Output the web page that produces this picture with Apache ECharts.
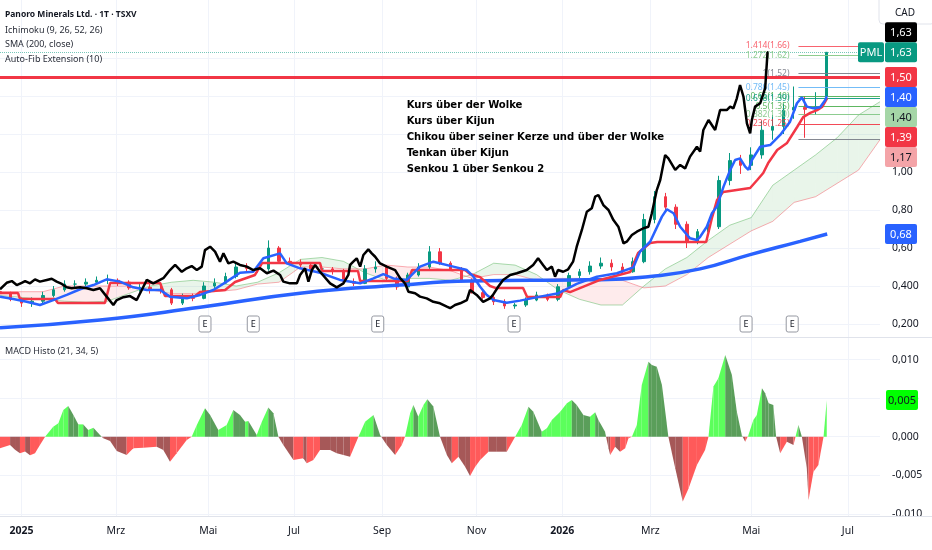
<!DOCTYPE html>
<html><head><meta charset="utf-8">
<script src="https://cdn.jsdelivr.net/npm/echarts@6/dist/echarts.min.js"></script>
<style>html,body{margin:0;padding:0;background:#fff}#c{width:932px;height:550px}</style>
</head><body><div id="c"></div>
<script>
// ---- axis ticks (x = trading-bar index) ----
const monthTickIdx = [10, 54, 97, 137, 178, 222, 262, 303, 350, 395];
const monthTickLabels = ['2025','Mrz','Mai','Jul','Sep','Nov','2026','Mrz','Mai','Jul'];
const priceTicks = [0.2, 0.4, 0.6, 0.8, 1.0, 1.2, 1.4, 1.6];
const priceTickLabels = ['0,200','0,400','0,60','0,80','1,00','1,20','1,40','1,60'];
const macdTicks = [-0.01, -0.005, 0, 0.005, 0.01];
const macdTickLabels = ['-0.010','-0,005','0,000','0,005','0,010'];

// ---- candles [bar, open, close, low, high] ----
const candles = [
[0,0.37,0.36,0.34,0.39],[5,0.36,0.33,0.32,0.37],[10,0.33,0.31,0.29,0.34],[15,0.31,0.32,0.29,0.34],
[20,0.32,0.35,0.31,0.37],[25,0.35,0.38,0.34,0.40],[30,0.38,0.41,0.37,0.43],[35,0.41,0.41,0.39,0.43],
[40,0.41,0.42,0.40,0.44],[45,0.42,0.43,0.41,0.45],[50,0.43,0.43,0.41,0.46],[55,0.43,0.42,0.40,0.44],
[60,0.42,0.39,0.38,0.43],[65,0.39,0.393,0.37,0.41],[70,0.393,0.382,0.36,0.41],[75,0.382,0.38,0.36,0.40],
[80,0.38,0.31,0.30,0.39],[85,0.31,0.34,0.30,0.36],[90,0.34,0.335,0.32,0.36],[95,0.335,0.40,0.33,0.42],
[100,0.40,0.415,0.39,0.44],[105,0.415,0.45,0.41,0.47],[110,0.45,0.50,0.44,0.52],[115,0.50,0.493,0.47,0.52],
[120,0.493,0.49,0.47,0.51],[125,0.49,0.60,0.48,0.64],[130,0.60,0.53,0.52,0.61],[135,0.53,0.525,0.51,0.55],
[140,0.525,0.51,0.49,0.54],[145,0.51,0.49,0.47,0.52],[150,0.49,0.49,0.47,0.51],[155,0.49,0.48,0.46,0.50],
[160,0.48,0.423,0.41,0.49],[165,0.423,0.414,0.40,0.44],[170,0.414,0.49,0.41,0.51],[175,0.49,0.50,0.47,0.53],
[180,0.50,0.44,0.43,0.51],[185,0.44,0.395,0.38,0.45],[190,0.395,0.458,0.39,0.47],[195,0.458,0.50,0.45,0.52],
[200,0.50,0.58,0.49,0.61],[205,0.58,0.52,0.51,0.60],[210,0.52,0.49,0.48,0.53],[215,0.49,0.43,0.42,0.50],
[220,0.43,0.365,0.36,0.44],[225,0.365,0.34,0.33,0.38],[230,0.34,0.317,0.30,0.35],[235,0.317,0.295,0.28,0.33],
[240,0.295,0.30,0.28,0.31],[245,0.30,0.326,0.29,0.34],[250,0.326,0.353,0.32,0.37],[255,0.353,0.33,0.32,0.36],
[260,0.33,0.396,0.32,0.41],[265,0.396,0.455,0.39,0.47],[270,0.455,0.475,0.44,0.49],[275,0.475,0.505,0.46,0.53],
[280,0.505,0.52,0.49,0.55],[285,0.52,0.50,0.48,0.54],[290,0.50,0.475,0.46,0.52],[295,0.475,0.528,0.47,0.55],
[300,0.528,0.75,0.52,0.78],[305,0.75,0.87,0.73,0.90],[310,0.87,0.815,0.79,0.89],[315,0.815,0.725,0.70,0.83],
[320,0.725,0.633,0.60,0.74],[325,0.633,0.686,0.62,0.70],[330,0.686,0.712,0.67,0.74],[335,0.712,0.955,0.70,0.98],
[340,0.955,1.06,0.93,1.10],[345,1.06,1.035,0.99,1.09],[350,1.035,1.09,1.01,1.13],[355,1.09,1.22,1.07,1.27],
[360,1.22,1.24,1.17,1.30],[365,1.24,1.326,1.20,1.36],[370,1.326,1.34,1.28,1.45],[375,1.34,1.33,1.18,1.40],
[380,1.33,1.345,1.30,1.42],[385,1.40,1.63,1.38,1.63]
];

// ---- Ichimoku lines [bar, price] ----
const tenkan = [
[0,0.344],[6.2,0.332],[12.4,0.317],[18.6,0.30],[24.8,0.326],[31.1,0.353],[37.3,0.383],[43.5,0.405],
[49.7,0.435],[55.9,0.423],[62.1,0.393],[68.4,0.379],[74.6,0.379],[79.2,0.344],[87,0.335],[93.2,0.353],
[99.4,0.379],[105.6,0.423],[111.8,0.47],[118,0.475],[122.7,0.546],[130.5,0.572],[133.6,0.519],[139.8,0.493],
[149.1,0.47],[158.4,0.432],[167.8,0.414],[174,0.44],[178.6,0.463],[183.3,0.44],[189.5,0.432],[195.7,0.502],
[201.9,0.528],[211.2,0.502],[217.5,0.484],[220.6,0.449],[223.7,0.396],[226.8,0.353],[229.9,0.326],[236.1,0.312],
[242.3,0.323],[251.6,0.344],[260.2,0.362],[268.7,0.411],[278.1,0.449],[287.4,0.467],[295.1,0.498],[298.2,0.581],
[302.9,0.633],[308.4,0.765],[310.7,0.804],[313.8,0.783],[316.9,0.712],[321.5,0.651],[324.7,0.642],[326.2,0.659],
[329.3,0.712],[331.7,0.783],[334,0.818],[337.1,0.923],[340.2,1.011],[342.5,1.063],[344.8,1.072],[347.2,1.028],
[348.7,1.011],[350.3,1.063],[354.2,1.133],[358.8,1.142],[363.5,1.195],[368.1,1.265],[371.3,1.362],[373.6,1.393],
[375.9,1.344],[379,1.335],[382.1,1.341],[384.5,1.379],[385.2,1.40]
];
const kijun = [
[0,0.363],[8.4,0.363],[9.3,0.332],[25.6,0.332],[27,0.311],[48.9,0.311],[51.3,0.416],[74.6,0.416],
[76.9,0.347],[90.9,0.347],[93.2,0.368],[104.9,0.379],[109.5,0.421],[118.8,0.458],[122.1,0.521],[149.1,0.521],
[150.1,0.479],[166.8,0.479],[167.8,0.426],[190.1,0.426],[192,0.484],[216.7,0.484],[219,0.463],[223.7,0.447],
[228.3,0.40],[231.1,0.389],[243.7,0.389],[245.6,0.342],[261,0.342],[262.4,0.379],[265.6,0.368],[279.6,0.432],
[293.6,0.474],[297.3,0.574],[302.9,0.626],[306.2,0.632],[329,0.632],[331.8,0.763],[334.1,0.853],[336.9,0.895],
[349.5,0.916],[352.8,0.958],[355.6,0.995],[357.9,1.047],[362.1,1.116],[366.7,1.153],[371.4,1.237],[374.2,1.289],
[377.5,1.311],[380.7,1.326],[383,1.342],[385.4,1.389]
];
const chikou = [
[0,0.383],[3.1,0.417],[5.5,0.426],[7.8,0.405],[10.1,0.417],[11.7,0.426],[14,0.414],[16.3,0.435],[18.6,0.423],
[21.8,0.432],[24.1,0.438],[26.4,0.423],[28.8,0.411],[31.1,0.393],[33.4,0.388],[37.3,0.393],[40.4,0.388],[43.5,0.379],
[46.6,0.388],[49.7,0.344],[52.8,0.300],[54.4,0.326],[57.5,0.341],[60.6,0.347],[63.7,0.326],[66.8,0.396],[68.4,0.432],
[71.4,0.414],[76.1,0.441],[79.2,0.484],[81.6,0.511],[84.7,0.475],[87,0.493],[89.3,0.505],[91.7,0.484],[94,0.502],
[95.5,0.589],[97.9,0.607],[100.2,0.581],[102.5,0.528],[104.1,0.572],[106.4,0.519],[108.7,0.528],[111.8,0.511],
[115,0.502],[118,0.484],[121.2,0.493],[124.3,0.467],[127.4,0.481],[130.5,0.458],[132,0.423],[135.1,0.414],
[138.3,0.414],[139.8,0.458],[142.1,0.493],[143.7,0.423],[145.3,0.484],[146.8,0.511],[149.1,0.475],[153.8,0.414],
[156.9,0.393],[160,0.414],[162.3,0.458],[163.1,0.511],[164.6,0.528],[166.2,0.546],[167.8,0.502],[169.3,0.563],
[171.6,0.593],[173.2,0.572],[174.8,0.554],[177.1,0.519],[180.2,0.502],[184.1,0.484],[186.4,0.441],[188.7,0.414],
[190.3,0.370],[193.4,0.362],[195.7,0.344],[198.8,0.335],[201.9,0.317],[205,0.309],[208.2,0.291],[209.7,0.283],
[212,0.300],[214.4,0.309],[217.5,0.326],[219,0.379],[222.1,0.353],[225.1,0.317],[228.3,0.335],[229.7,0.353],
[232.1,0.396],[234.4,0.432],[237.7,0.458],[240.8,0.467],[245.4,0.484],[248.4,0.511],[250.7,0.546],[253,0.511],
[254.8,0.484],[257.1,0.502],[258.6,0.449],[260,0.484],[262.4,0.475],[264.7,0.488],[267,0.528],[268.7,0.607],
[271.1,0.695],[273.4,0.791],[275.7,0.809],[277.3,0.870],[278.8,0.879],[281.1,0.826],[283.5,0.800],[285.8,0.747],
[288.1,0.712],[290.5,0.625],[292,0.633],[294.4,0.668],[296.7,0.686],[299.8,0.704],[302.1,0.712],[303.7,0.783],
[306,0.905],[307.6,0.958],[309.9,1.089],[311.4,1.072],[314.6,1.011],[316.9,1.037],[319.2,1.019],[321.5,1.081],
[324.7,1.133],[326.2,1.107],[327.7,1.221],[330.1,1.274],[333.2,1.221],[335.5,1.326],[338.6,1.326],[340.2,1.344],
[341.7,1.335],[343.3,1.388],[344.8,1.458],[346.4,1.396],[348,1.256],[349.5,1.204],[350.3,1.274],[351.8,1.344],
[354.2,1.362],[356.5,1.441],[357.6,1.63],[358,1.63]
];
const sma200 = [
[0,0.180],[46.6,0.221],[93.2,0.288],[139.8,0.362],[186.4,0.405],[219,0.426],[267,0.432],[279.6,0.433],
[302.9,0.45],[326.2,0.49],[349.5,0.565],[372.8,0.635],[385.4,0.674]
];
const cloudIdx = [0,10,20,30,40,50,60,70,80,90,100,110,120,130,140,150,160,170,180,190,200,210,220,230,240,250,260,270,280,290,300,310,320,330,340,350,360,370,380,390,400,410];
const senkouA = [0.35,0.34,0.33,0.32,0.315,0.32,0.36,0.40,0.42,0.43,0.42,0.40,0.42,0.47,0.54,0.55,0.53,0.47,0.43,0.44,0.44,0.43,0.46,0.52,0.51,0.46,0.38,0.33,0.30,0.30,0.40,0.49,0.55,0.64,0.72,0.76,0.93,1.01,1.09,1.18,1.30,1.37];
const senkouB = [0.37,0.37,0.37,0.40,0.40,0.40,0.40,0.38,0.36,0.36,0.37,0.38,0.41,0.42,0.50,0.50,0.49,0.49,0.51,0.50,0.50,0.48,0.44,0.46,0.46,0.43,0.44,0.44,0.43,0.43,0.39,0.40,0.46,0.55,0.62,0.69,0.74,0.84,0.87,0.94,1.01,1.17];

// ---- MACD histogram [bar, value] ----
const macdHisto = [
[0,-0.0015],[4.7,-0.00107],[7,-0.0017],[9.3,-0.00215],[11.7,-0.0019],[14,-0.0024],[16.3,-0.00215],[18.6,-0.00107],
[21,0],[24.8,0.0013],[27.2,0.00173],[29.5,0.00346],[31.8,0.00397],[34.2,0.0028],[36.5,0.0016],[38.8,0.0016],
[41.1,0.00087],[43.5,0.00117],[46.6,0.00022],[48.1,-0.0002],[51.3,-0.00056],[54.4,-0.00185],[59,-0.00237],[62.1,-0.0015],
[66.8,-0.00142],[73,-0.0013],[76.1,-0.00172],[79.2,-0.00324],[82.3,-0.00215],[87,-0.00043],[89.3,0],[91.7,0.00152],
[95.5,0.00368],[97.9,0.0028],[101.7,0.00087],[105.6,0.00152],[108.7,0.00346],[111.8,0.0028],[114.2,0.00194],[115.7,0.00203],
[119.6,0.00022],[122,0.00194],[125,0.0038],[127.4,0.00303],[129.7,0],[132,-0.00107],[136.7,-0.00302],[141.3,-0.0028],
[142.9,-0.00345],[146,-0.00302],[149.1,-0.00172],[153.8,-0.00172],[156.9,-0.00215],[160,-0.00237],[163.1,-0.0026],[167,0],
[170.1,0.00194],[174,0.0028],[177.1,0.00022],[180.2,-0.00107],[184.1,-0.00237],[187.2,-0.00107],[188.7,0],[191.1,0.00303],
[192.6,0.0041],[194.9,0.0026],[197.3,0.0041],[199.1,0.00484],[201.9,0.0039],[205,0],[208.2,-0.00237],[210.5,-0.00345],
[213.6,-0.0026],[216.7,-0.0039],[219,-0.0051],[221.4,-0.0039],[223.7,-0.00302],[227.6,-0.00194],[231.5,-0.00194],[236.1,-0.00194],
[240,0],[243.1,0.00152],[246.2,0.00389],[248.5,0.00324],[252.4,0.00065],[254.8,0.00109],[257.1,0.00216],[261,0.00324],
[264.1,0.00433],[266.4,0.00475],[268.7,0.0041],[271.8,0.0028],[274.9,0.0026],[277.3,0.00316],[278.8,0.00216],[281.9,0.00065],
[283.5,-0.0015],[284.3,-0.00237],[286.6,-0.0013],[288.9,-0.00194],[291.3,-0.0015],[292.8,-0.0002],[294.4,0],[296.7,0.00152],
[299,0.0067],[302.1,0.0097],[303.7,0.0093],[306,0.00907],[308.4,0.0067],[311.4,0],[314.6,-0.0041],[318.1,-0.0084],
[320.8,-0.0067],[324.7,-0.00367],[328.5,-0.00172],[330.1,0],[332.4,0.0065],[334.7,0.00756],[337.9,0.0106],[341,0.008],
[343.3,0.00324],[345.6,0.00022],[347.2,-0.00065],[348.7,0.00022],[351,0.00216],[352.6,0.0028],[355,0.00627],[356.5,0.00562],
[358.1,0.00433],[360.3,0.0041],[361.6,0],[363.5,-0.00215],[366.6,-0.00065],[369.7,-0.00107],[372,0.00152],[373.6,0],
[375.9,-0.0041],[376.7,-0.0082],[379,-0.00453],[381.3,-0.00367],[383.7,0],[385.2,0.00475]
];

// ---- events and drawings ----
const earningsIdx = [95.5, 118, 176, 239.5, 347.6, 369.1];
const fibRatios = ['1.414','1.272','1','0.786','0.65','0.618','0.5','0.382','0.236','0'];
const fibPrices = [1.664, 1.615, 1.52, 1.445, 1.3975, 1.386, 1.345, 1.304, 1.253, 1.17];
const fibPriceLabels = ['1.66','1.62','1.52','1.45','1.40','1.39','1.35','1.30','1.25','1.17'];
const fibColors = ['#f7525f','#81c784','#787b86','#64b5f6','#4caf50','#089981','#4caf50','#81c784','#f23645','#787b86'];
const fibStart = 372, axisEnd = 410;
const resistance = 1.50, lastClose = 1.63;
const annotation = ['Kurs über der Wolke','Kurs über Kijun','Chikou über seiner Kerze und über der Wolke','Tenkan über Kijun','Senkou 1 über Senkou 2'];
const annotationAnchor = [189.5, 1.395];
const legendLines = ['Panoro Minerals Ltd. · 1T · TSXV','Ichimoku (9, 26, 52, 26)','SMA (200, close)','Auto-Fib Extension (10)'];

const FONT = '"Noto Sans", sans-serif';
const GRID = '#f0f3fa';
function lookup(vals, labels, v){ for (let i=0;i<vals.length;i++) if (Math.abs(vals[i]-v)<1e-9) return labels[i]; return ''; }

const chart = echarts.init(document.getElementById('c'), null, {width:932, height:550});

const fibMarks = fibRatios.map((r,i)=>[
  {name: r==='0' ? '' : r+'('+fibPriceLabels[i]+')', coord:[fibStart, fibPrices[i]],
   lineStyle:{color:fibColors[i], width:1, type:'solid', opacity:0.9},
   label:{show: r!=='0', color:fibColors[i]}},
  {coord:[axisEnd, fibPrices[i]]}
]);

const option = {
  animation:false,
  textStyle:{fontFamily:FONT},
  grid:[
    {left:0, right:52, top:0, height:337},
    {left:0, right:52, top:338, height:178}
  ],
  xAxis:[
    {type:'value', gridIndex:0, min:0, max:axisEnd, axisLine:{show:false},
     axisTick:{show:false, customValues:monthTickIdx}, axisLabel:{show:false, customValues:monthTickIdx},
     splitLine:{show:true, lineStyle:{color:GRID}}},
    {type:'value', gridIndex:1, min:0, max:axisEnd, axisLine:{show:false},
     axisTick:{show:false, customValues:monthTickIdx},
     axisLabel:{customValues:monthTickIdx, margin:10, color:'#131722', fontSize:10.5, fontFamily:FONT,
       formatter:(v)=>{ let best=0; for(let i=0;i<monthTickIdx.length;i++) if(Math.abs(monthTickIdx[i]-v)<Math.abs(monthTickIdx[best]-v)) best=i;
         const t=monthTickLabels[best]; return /^\d{4}$/.test(t) ? '{b|'+t+'}' : t; },
       rich:{b:{fontWeight:'bold', fontSize:10.5, color:'#131722', fontFamily:FONT}}},
     splitLine:{show:true, lineStyle:{color:GRID}}}
  ],
  yAxis:[
    {type:'value', gridIndex:0, position:'right', min:0.1316, max:1.9053, axisLine:{show:false},
     axisTick:{show:false, customValues:priceTicks},
     axisLabel:{customValues:priceTicks, align:'left', margin:12, color:'#131722', fontSize:10.5, fontFamily:FONT,
       formatter:(v)=>lookup(priceTicks, priceTickLabels, v)},
     splitLine:{show:true, lineStyle:{color:GRID}}},
    {type:'value', gridIndex:1, position:'right', min:-0.01027, max:0.01279, axisLine:{show:false},
     axisTick:{show:false, customValues:macdTicks},
     axisLabel:{customValues:macdTicks, align:'left', margin:12, color:'#131722', fontSize:10.5, fontFamily:FONT,
       formatter:(v)=>lookup(macdTicks, macdTickLabels, v)},
     splitLine:{show:true, lineStyle:{color:GRID}}}
  ],
  series:[
    {type:'custom', name:'cloud', xAxisIndex:0, yAxisIndex:0, z:1, silent:true,
     data: cloudIdx.map((x,i)=>[x, senkouA[i], senkouB[i]]),
     renderItem:(params, api)=>{
       const i = params.dataIndex; if (i >= cloudIdx.length-1) return null;
       const a0 = api.coord([cloudIdx[i], senkouA[i]]), a1 = api.coord([cloudIdx[i+1], senkouA[i+1]]);
       const b0 = api.coord([cloudIdx[i], senkouB[i]]), b1 = api.coord([cloudIdx[i+1], senkouB[i+1]]);
       const up = senkouA[i]+senkouA[i+1] >= senkouB[i]+senkouB[i+1];
       return {type:'polygon', shape:{points:[a0,a1,b1,b0]}, style:{fill: up ? 'rgba(76,175,80,0.12)' : 'rgba(242,54,69,0.10)'}};
     }},
    {type:'line', name:'Senkou A', xAxisIndex:0, yAxisIndex:0, z:2, showSymbol:false, silent:true,
     data: cloudIdx.map((x,i)=>[x, senkouA[i]]), lineStyle:{color:'rgba(76,175,80,0.45)', width:1}},
    {type:'line', name:'Senkou B', xAxisIndex:0, yAxisIndex:0, z:2, showSymbol:false, silent:true,
     data: cloudIdx.map((x,i)=>[x, senkouB[i]]), lineStyle:{color:'rgba(242,54,69,0.4)', width:1}},
    {type:'candlestick', name:'PML', xAxisIndex:0, yAxisIndex:0, z:3, barWidth:3, data:candles,
     itemStyle:{color:'#089981', color0:'#f23645', borderColor:'#089981', borderColor0:'#f23645', borderWidth:1}},
    {type:'line', name:'SMA200', xAxisIndex:0, yAxisIndex:0, z:4, smooth:true, showSymbol:false, data:sma200,
     lineStyle:{color:'#2962ff', width:3.5}},
    {type:'line', name:'Kijun', xAxisIndex:0, yAxisIndex:0, z:5, showSymbol:false, data:kijun,
     lineStyle:{color:'#f23645', width:2.5}},
    {type:'line', name:'Tenkan', xAxisIndex:0, yAxisIndex:0, z:6, showSymbol:false, data:tenkan,
     lineStyle:{color:'#2962ff', width:2.5}},
    {type:'line', name:'Chikou', xAxisIndex:0, yAxisIndex:0, z:7, showSymbol:false, data:chikou,
     lineStyle:{color:'#000000', width:2.5}},
    {type:'line', name:'drawings', xAxisIndex:0, yAxisIndex:0, z:8, data:[], silent:true,
     markLine:{symbol:'none', silent:true, animation:false,
       label:{position:'start', distance:9, fontSize:8.5, fontFamily:FONT, padding:[0,0,25,0], formatter:(p)=>p.name},
       data:[
         {yAxis:resistance, lineStyle:{color:'#f23645', width:3, type:'solid'}, label:{show:false}},
         {yAxis:lastClose, lineStyle:{color:'rgba(8,153,129,0.55)', width:1, type:'dotted'}, label:{show:false}}
       ].concat(fibMarks)}},
    {type:'custom', name:'MACD', xAxisIndex:1, yAxisIndex:1, z:3, silent:true, data:macdHisto,
     renderItem:(params, api)=>{
       const i = params.dataIndex; if (i >= macdHisto.length-1) return null;
       const [x0,v0] = macdHisto[i], [x1,v1] = macdHisto[i+1];
       const BG='#5cff5c', DG='#5a9e5a', BR='#ff5a5a', DR='#a65858';
       const p = (x,v)=>api.coord([x,v]);
       const kids = [];
       if (v0 >= 0 && v1 >= 0) {
         kids.push({type:'polygon', shape:{points:[p(x0,v0),p(x1,v1),p(x1,0),p(x0,0)]}, style:{fill: v1>=v0?BG:DG}});
       } else if (v0 <= 0 && v1 <= 0) {
         kids.push({type:'polygon', shape:{points:[p(x0,v0),p(x1,v1),p(x1,0),p(x0,0)]}, style:{fill: v1<=v0?DR:BR}});
       } else {
         const xc = x0 + (x1-x0)*v0/(v0-v1);
         if (v0 < 0) {
           kids.push({type:'polygon', shape:{points:[p(x0,v0),p(xc,0),p(x0,0)]}, style:{fill:BR}});
           kids.push({type:'polygon', shape:{points:[p(xc,0),p(x1,v1),p(x1,0)]}, style:{fill:BG}});
         } else {
           kids.push({type:'polygon', shape:{points:[p(x0,v0),p(xc,0),p(x0,0)]}, style:{fill:DG}});
           kids.push({type:'polygon', shape:{points:[p(xc,0),p(x1,v1),p(x1,0)]}, style:{fill:DR}});
         }
       }
       return {type:'group', children:kids};
     }}
  ]
};
chart.setOption(option);

// ---- overlays: legends, annotation, events, price badges ----
const px = (x,y,g)=>chart.convertToPixel({gridIndex:g||0}, [x,y]);
const g = [];
g.push({type:'line', shape:{x1:0,y1:337.5,x2:932,y2:337.5}, style:{stroke:'#e0e3eb', lineWidth:1}, z:50});
g.push({type:'line', shape:{x1:0,y1:516.5,x2:932,y2:516.5}, style:{stroke:'#e0e3eb', lineWidth:1}, z:50});
g.push({type:'rect', shape:{x:879,y:-4,width:56,height:28,r:4}, style:{fill:'#fff', stroke:'#e0e3eb'}, z:50});
g.push({type:'text', style:{text:'CAD', x:905, y:13, align:'center', verticalAlign:'middle', fill:'#131722', font:'10px '+FONT}, z:51});
const legY = [15, 30, 44.5, 59];
legendLines.forEach((t,i)=>g.push({type:'text', style:{text:t, x:5, y:legY[i], verticalAlign:'middle',
  fill: i===0?'#131722':'#2a2e39', font:(i===0?'bold 8.5px ':'9px ')+FONT}, z:60}));
g.push({type:'text', style:{text:'MACD Histo (21, 34, 5)', x:5, y:351, verticalAlign:'middle', fill:'#2a2e39', font:'9px '+FONT}, z:60});

const an = px(annotationAnchor[0], annotationAnchor[1]);
g.push({type:'text', style:{text:annotation.join('\n'), x:an[0], y:an[1], verticalAlign:'top', lineHeight:16,
  fill:'#000', font:'bold 11.2px "DejaVu Sans Condensed", "DejaVu Sans", sans-serif'}, z:60});

earningsIdx.forEach(e=>{
  const p = px(e, 1);
  g.push({type:'rect', shape:{x:p[0]-6, y:316, width:12, height:16, r:2}, style:{fill:'#fff', stroke:'#9598a1', lineWidth:1}, z:55});
  g.push({type:'text', style:{text:'E', x:p[0], y:324.5, align:'center', verticalAlign:'middle', fill:'#131722', font:'9px '+FONT}, z:56});
});

function badge(x, yc, w, text, bg, fg){
  g.push({type:'rect', shape:{x:x, y:yc-10, width:w, height:20, r:2}, style:{fill:bg}, z:70});
  g.push({type:'text', style:{text:text, x:x+w/2, y:yc+0.5, align:'center', verticalAlign:'middle', fill:fg, font:'11px '+FONT}, z:71});
}
const badgeList = [
  {t:'1,50', v:resistance, bg:'#f23645', fg:'#fff'},
  {t:'1,40', v:tenkan[tenkan.length-1][1], bg:'#2962ff', fg:'#fff'},
  {t:'1,40', v:senkouA[senkouA.length-1]+0.03, bg:'#a5d6a7', fg:'#131722'},
  {t:'1,39', v:kijun[kijun.length-1][1], bg:'#f23645', fg:'#fff'},
  {t:'1,17', v:senkouB[senkouB.length-1], bg:'#f4a4a8', fg:'#131722'}
];
const pmlY = px(0, lastClose)[1];
badge(885, pmlY-20, 32, '1,63', '#000', '#fff');
badge(858, pmlY, 26, 'PML', '#089981', '#fff');
badge(885, pmlY, 32, '1,63', '#089981', '#fff');
let prev = pmlY;
badgeList.forEach(b=>{ let y = px(0, b.v)[1]; if (y < prev + 20) y = prev + 20; badge(885, y, 32, b.t, b.bg, b.fg); prev = y; });
badge(885, px(0, sma200[sma200.length-1][1])[1], 32, '0,68', '#2962ff', '#fff');
badge(886, px(0, macdHisto[macdHisto.length-1][1], 1)[1], 32, '0,005', '#00ff00', '#131722');

chart.setOption({graphic: g});
</script>
</body></html>
